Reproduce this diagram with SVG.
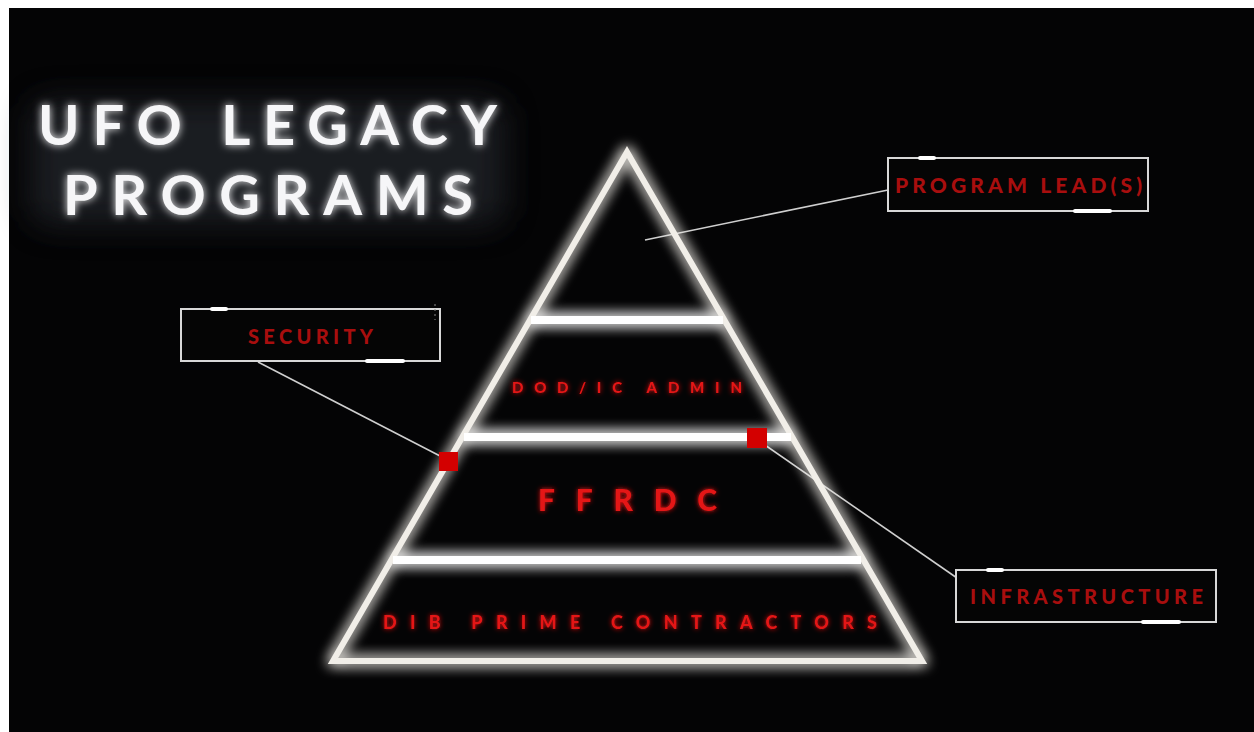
<svg xmlns="http://www.w3.org/2000/svg" width="1254" height="732" viewBox="0 0 1254 732">
<defs>
<style>
.title{font-family:Lato,"Noto Sans","Liberation Sans",sans-serif;font-weight:700;fill:#f6f6f8;}
.haze{font-family:Lato,"Noto Sans","Liberation Sans",sans-serif;font-weight:900;fill:#8a90a0;}
.redg{font-family:Lato,"Noto Sans","Liberation Sans",sans-serif;font-weight:900;fill:#e41414;}
.boxt{font-family:Lato,"Noto Sans","Liberation Sans",sans-serif;font-weight:900;fill:#a80e0e;}
.box{fill:#050505;stroke:#d8d8d8;stroke-width:2;}
.mark{stroke:#ffffff;stroke-width:4;stroke-linecap:round;}
.conn{stroke:#cfcfcf;stroke-width:1.6;fill:none;}
.tri{fill:none;stroke:#f1eee8;stroke-width:6;stroke-linejoin:miter;}
.band{stroke:#ffffff;stroke-width:8;}
.sq{fill:#d30000;}
</style>
<filter id="glowW" x="-20%" y="-50%" width="140%" height="200%">
<feGaussianBlur in="SourceGraphic" stdDeviation="7" result="b"/>
<feMerge><feMergeNode in="b"/><feMergeNode in="b"/><feMergeNode in="SourceGraphic"/></feMerge>
</filter>
<filter id="glowT" x="-20%" y="-50%" width="140%" height="200%">
<feGaussianBlur in="SourceGraphic" stdDeviation="4" result="b"/>
<feMerge><feMergeNode in="b"/><feMergeNode in="SourceGraphic"/></feMerge>
</filter>
<filter id="glowR" x="-20%" y="-80%" width="140%" height="260%">
<feGaussianBlur in="SourceGraphic" stdDeviation="2.5" result="b"/>
<feMerge><feMergeNode in="b"/><feMergeNode in="SourceGraphic"/></feMerge>
</filter>
<filter id="haze" x="-30%" y="-60%" width="160%" height="220%">
<feGaussianBlur stdDeviation="16"/>
</filter>
</defs>
<rect x="0" y="0" width="1254" height="732" fill="#ffffff"/>
<rect x="9" y="8" width="1245" height="724" fill="#040405"/>

<g id="title">
<g filter="url(#haze)" opacity="0.6">
<rect x="30" y="100" width="475" height="125" rx="20" fill="#2a2d36"/>
</g>
<g filter="url(#glowT)">
<text class="title" x="38" y="145" font-size="56" textLength="459" lengthAdjust="spacing">UFO LEGACY</text>
<text class="title" x="63" y="215" font-size="56" textLength="410" lengthAdjust="spacing">PROGRAMS</text>
</g>
</g>

<g id="connectors">
<line class="conn" x1="645" y1="240" x2="888" y2="190"/>
<line class="conn" x1="258" y1="362" x2="442" y2="457"/>
<line class="conn" x1="762" y1="443" x2="957" y2="578"/>
</g>

<g id="pyramid">
<g filter="url(#glowW)">
<polygon class="tri" points="627,152 333,661 922,661"/>
<line class="band" x1="531" y1="320" x2="723" y2="320"/>
<line class="band" x1="464" y1="437" x2="791" y2="437"/>
<line class="band" x1="393" y1="560" x2="861" y2="560"/>
</g>
</g>

<g id="level-dod" filter="url(#glowR)">
<text class="redg" x="512" y="393" font-size="15" textLength="230" lengthAdjust="spacing">DOD/IC ADMIN</text>
</g>
<g id="level-ffrdc" filter="url(#glowR)">
<text class="redg" x="538" y="511" font-size="30" textLength="179" lengthAdjust="spacing">FFRDC</text>
</g>
<g id="level-dib" filter="url(#glowR)">
<text class="redg" x="383" y="629" font-size="18" textLength="494" lengthAdjust="spacing">DIB PRIME CONTRACTORS</text>
</g>

<g id="markers">
<rect class="sq" x="439" y="452" width="19" height="19"/>
<rect class="sq" x="747" y="428" width="20" height="20"/>
</g>

<g id="program-leads">
<rect class="box" x="888" y="158" width="260" height="53"/>
<line class="mark" x1="920" y1="158" x2="934" y2="158"/>
<line class="mark" x1="1075" y1="211" x2="1110" y2="211"/>
<text class="boxt" x="895" y="193" font-size="21" textLength="247" lengthAdjust="spacing">PROGRAM LEAD(S)</text>
</g>

<g id="security">
<rect class="box" x="181" y="309" width="259" height="52"/>
<line class="mark" x1="212" y1="309" x2="226" y2="309"/>
<line class="mark" x1="367" y1="361" x2="403" y2="361"/>
<line x1="435" y1="304" x2="435" y2="320" stroke="#888" stroke-width="1" stroke-dasharray="2,3"/>
<text class="boxt" x="248" y="344" font-size="20" textLength="125" lengthAdjust="spacing">SECURITY</text>
</g>

<g id="infrastructure">
<rect class="box" x="956" y="570" width="260" height="52"/>
<line class="mark" x1="988" y1="570" x2="1002" y2="570"/>
<line class="mark" x1="1143" y1="622" x2="1179" y2="622"/>
<text class="boxt" x="970" y="604" font-size="20" textLength="233" lengthAdjust="spacing">INFRASTRUCTURE</text>
</g>
</svg>
